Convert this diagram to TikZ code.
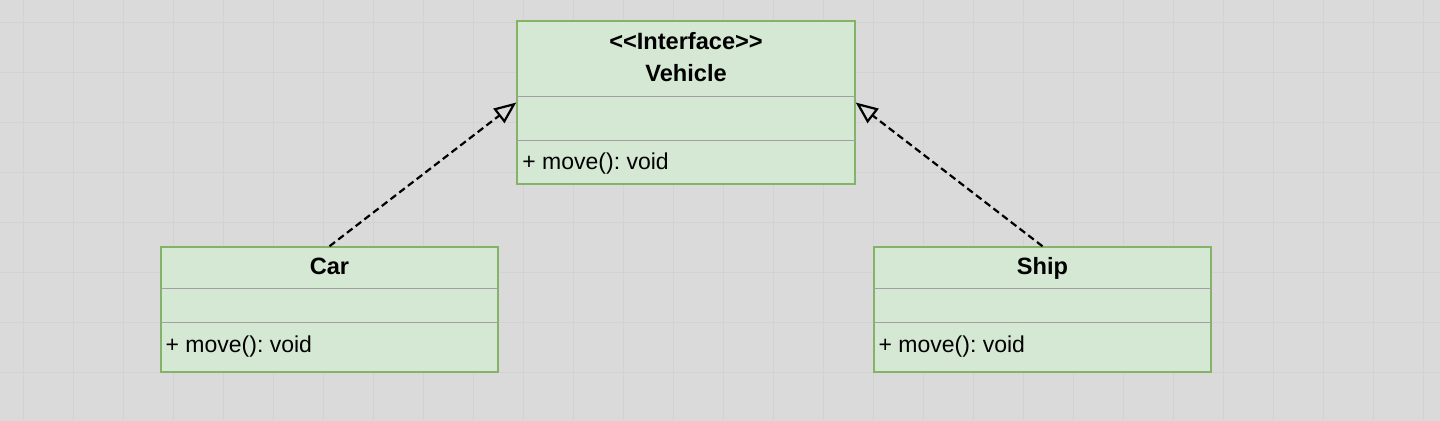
\documentclass[tikz,border=0pt]{standalone}
\usepackage{fontspec}
\setmainfont{Liberation Sans}
\usetikzlibrary{arrows.meta}
\frenchspacing
\definecolor{bgcol}{HTML}{DADADA}
\definecolor{gridcol}{HTML}{D2D2D2}
\definecolor{boxfill}{HTML}{D5E8D4}
\definecolor{boxline}{HTML}{82B366}
\definecolor{divcol}{HTML}{A0A0A0}
\begin{document}
\begin{tikzpicture}[x=0.5pt, y=-0.5pt,
    class_style/.style={rectangle, draw=boxline, fill=boxfill, line width=0.75pt, inner sep=0pt, minimum width=168.5pt},
    div_style/.style={draw=divcol, line width=0.5pt},
    grid_style/.style={draw=gridcol, line width=0.5pt},
    title_style/.style={font=\fontsize{11.8}{13}\selectfont\bfseries, inner sep=0pt, text height=8.5pt, text depth=0pt},
    member_style/.style={font=\fontsize{11.5}{13}\selectfont, anchor=west, inner sep=0pt, text height=8.5pt, text depth=0pt},
    real_style/.style={dashed, dash pattern=on 3.5pt off 2pt, line width=1.1pt, -{Triangle[open, length=11pt, width=9pt]}}
]
% background and grid
\useasboundingbox (0,0) rectangle (1440,420);
\fill[bgcol] (-10,-10) rectangle (1450,430);
\foreach \x in {23,73,...,1423} {
    \draw[grid_style] (\x,0) -- (\x,420);
}
\foreach \y in {22,72,...,422} {
    \draw[grid_style] (0,\y) -- (1440,\y);
}
% interface
\node[class_style, minimum width=169pt, minimum height=81.5pt] (vehicle) at (686,102.5) {};
\node[title_style] (vehicle_st) at (686,41) {<\kern0pt<Interface>\kern0pt>};
\node[title_style] (vehicle_nm) at (686,73) {Vehicle};
\draw[div_style] (vehicle.west |- 0,96) -- (vehicle.east |- 0,96);
\draw[div_style] (vehicle.west |- 0,140) -- (vehicle.east |- 0,140);
\node[member_style] (vehicle_op) at (522,161) {+ move(): void};
% implementing classes
\foreach \cls/\nm/\cx in {car/Car/329.5, ship/Ship/1042.5} {
    \node[class_style, minimum height=62.5pt] (\cls) at (\cx,309.5) {};
    \node[title_style] (\cls_nm) at (\cx,266) {\nm};
    \draw[div_style] (\cls.west |- 0,288) -- (\cls.east |- 0,288);
    \draw[div_style] (\cls.west |- 0,322) -- (\cls.east |- 0,322);
    \node[member_style] (\cls_op) at ([xshift=2.5pt]\cls.west |- 0,344) {+ move(): void};
}
% realization
\draw[real_style] (car.north) -- (vehicle.west);
\draw[real_style] (ship.north) -- (vehicle.east);
\end{tikzpicture}
\end{document}
